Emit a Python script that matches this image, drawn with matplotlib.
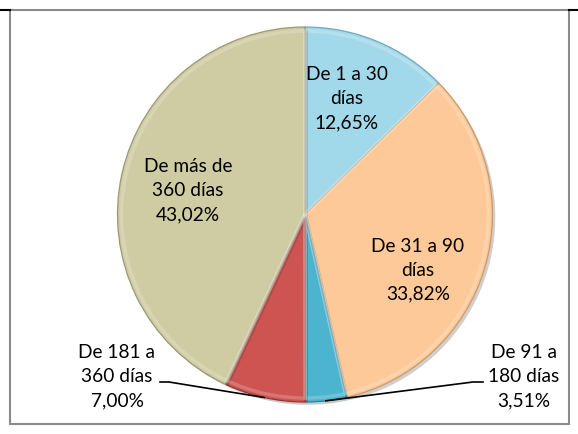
import matplotlib
matplotlib.use("Agg")
import numpy as np
import matplotlib.pyplot as plt
import matplotlib.patheffects as pe
from matplotlib.patches import Rectangle

# ===== DATA =====
categories = ["De 1 a 30\ndías", "De 31 a 90\ndías", "De 91 a\n180 días",
              "De 181 a\n360 días", "De más de\n360 días"]
shares = [12.65, 33.82, 3.51, 7.00, 43.02]
pct_labels = ["12,65%", "33,82%", "3,51%", "7,00%", "43,02%"]
colors = ["#A2D9EA", "#FDC998", "#4CB4CF", "#CD5451", "#CFCBA2"]
edges = ["#6FA9BA", "#C99A6C", "#2F8197", "#933735", "#9C9873"]

# ===== LAYOUT (pixel coords, y measured from bottom) =====
W, H = 578, 434
center = (305, H - 214.5)
radius = 187.5
label_pos = [(347, H - 99), (418, H - 270), (524, H - 377), (117, H - 377), (188, H - 191)]
# elbow points for leader lines (only small slices)
leader = {2: [(483, H - 382), (473, H - 382)],
          3: [(160, H - 382), (169, H - 382)]}

plt.rcParams['font.family'] = ['Lato', 'DejaVu Sans']

fig = plt.figure(figsize=(W / 100, H / 100), dpi=100)
ax = fig.add_axes([0, 0, 1, 1])

# frame
ax.add_patch(Rectangle((10, H - 424), 559, 414, fill=False, edgecolor="#8c8c8c", linewidth=1.5))
ax.plot([0, 10], [H - 10, H - 10], color="black", linewidth=1.5)
ax.plot([569, W], [H - 10, H - 10], color="black", linewidth=1.5)

wedges, _ = ax.pie(shares, colors=colors, startangle=90, counterclock=False,
                   center=center, radius=radius, frame=True,
                   wedgeprops=dict(linewidth=0.9))
for w, ec in zip(wedges, edges):
    w.set_edgecolor(ec)
    w.set_path_effects([pe.SimplePatchShadow(offset=(2, -2), alpha=0.25), pe.Normal()])

# inner bevel highlight
bevel, _ = ax.pie(shares, startangle=90, counterclock=False,
                  center=center, radius=radius - 4, frame=True)
for b in bevel:
    b.set_facecolor("none")
    b.set_edgecolor("white")
    b.set_alpha(0.2)
    b.set_linewidth(2.5)

ax.set_xlim(0, W)
ax.set_ylim(0, H)
ax.set_aspect("equal")
ax.axis("off")

for i, (cat, pct) in enumerate(zip(categories, pct_labels)):
    x, y = label_pos[i]
    ax.text(x, y, f"{cat}\n{pct}", ha="center", va="center", fontsize=13.8,
            linespacing=1.5, color="black")
    if i in leader:
        w = wedges[i]
        mid = np.deg2rad((w.theta1 + w.theta2) / 2)
        px = center[0] + radius * np.cos(mid)
        py = center[1] + radius * np.sin(mid)
        pts = leader[i] + [(px, py)]
        ax.plot([p[0] for p in pts], [p[1] for p in pts], color="black", linewidth=1.2)

plt.savefig("out.png", dpi=100)
plt.close()
